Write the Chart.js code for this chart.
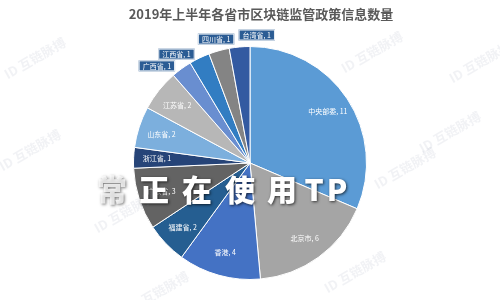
<!DOCTYPE html>
<html>
<head>
<meta charset="utf-8">
<script src="https://cdn.jsdelivr.net/npm/chart.js@4/dist/chart.umd.min.js"></script>
<style>
html,body{margin:0;padding:0;background:#fff;}
#wrap{width:500px;height:300px;position:relative;}
</style>
</head>
<body>
<div id="wrap"><canvas id="c" width="500" height="300"></canvas></div>
<script>
const chartTitle = '2019年上半年各省市区块链监管政策信息数量';
const categories = ['中央部委','北京市','香港','福建省','广东省','浙江省','山东省','江苏省','广西省','江西省','四川省','台湾省'];
const counts = [11, 6, 4, 2, 3, 1, 2, 2, 1, 1, 1, 1];
const sliceColors = ['#5B9BD5','#A5A5A5','#4472C4','#255E91','#636363','#264478','#7CAFDD','#B7B7B7','#698ED0','#327DC2','#848484','#335AA1'];
const calloutSet = ['广西省','江西省','四川省','台湾省'];
const overlayText = '常正在使用TP';
const watermarkText = '互链脉搏';

const labelPlugin = {
  id: 'sliceLabels',
  afterDatasetsDraw(chart) {
    const ctx = chart.ctx;
    const meta = chart.getDatasetMeta(0);
    const sideOf = {'台湾省': 1, '四川省': 0, '江西省': -1, '广西省': -1};
    ctx.save();
    ctx.font = '7px "Noto Sans CJK SC", sans-serif';
    ctx.textBaseline = 'middle';
    meta.data.forEach((arc, i) => {
      const p = arc.getProps(['x','y','startAngle','endAngle','outerRadius'], true);
      const mid = (p.startAngle + p.endAngle) / 2;
      const txt = categories[i] + ', ' + counts[i];
      if (calloutSet.includes(categories[i])) {
        const r = p.outerRadius + 11;
        const ax = p.x + Math.cos(mid) * r;
        const ay = p.y + Math.sin(mid) * r;
        const w = ctx.measureText(txt).width + 8;
        const h = 11;
        const side = sideOf[categories[i]];
        const cx = ax + side * w / 2;
        const cy = ay - 1 + (side < 0 ? 7 : 0);
        ctx.fillStyle = '#2B5C94';
        ctx.fillRect(cx - w/2, cy - h/2, w, h);
        ctx.strokeStyle = 'rgba(255,255,255,0.9)';
        ctx.lineWidth = 1;
        ctx.strokeRect(cx - w/2 + 0.5, cy - h/2 + 0.5, w - 1, h - 1);
        ctx.fillStyle = '#fff';
        ctx.textAlign = 'center';
        ctx.fillText(txt, cx, cy + 0.5);
      } else {
        const r = p.outerRadius * 0.8;
        const x = p.x + Math.cos(mid) * r;
        const y = p.y + Math.sin(mid) * r;
        ctx.fillStyle = '#fff';
        ctx.textAlign = 'center';
        ctx.fillText(txt, x, y);
      }
    });
    ctx.restore();
  },
  afterDraw(chart) {
    const ctx = chart.ctx;
    ctx.save();
    // title
    ctx.font = 'bold 13px "Noto Sans CJK SC", sans-serif';
    ctx.fillStyle = '#595959';
    ctx.textAlign = 'center';
    ctx.textBaseline = 'middle';
    ctx.fillText(chartTitle, 261, 14);
    // faint watermarks
    const marks = [[35,58],[372,52],[480,62],[450,132],[405,168],[355,272],[125,212],[158,292],[30,150]];
    ctx.font = 'bold 13px "Noto Sans CJK SC", sans-serif';
    ctx.fillStyle = 'rgba(140,145,170,0.12)';
    marks.forEach(([x,y]) => {
      ctx.save();
      ctx.translate(x, y);
      ctx.rotate(-Math.PI/6);
      ctx.fillText('ID ' + watermarkText, 0, 0);
      ctx.restore();
    });
    // big overlay text
    ctx.font = '900 30px "Noto Sans CJK SC", sans-serif';
    ctx.textAlign = 'center';
    const chars = Array.from(overlayText);
    const xs = [112, 154, 197, 240, 282, 314, 337];
    chars.forEach((ch, k) => {
      ctx.save();
      ctx.shadowColor = 'rgba(0,0,0,0.7)';
      ctx.shadowBlur = 3;
      ctx.shadowOffsetX = 1;
      ctx.shadowOffsetY = 1;
      ctx.fillStyle = k === 0 ? 'rgba(255,255,255,0.75)' : '#ffffff';
      ctx.fillText(ch, xs[k], 190);
      ctx.restore();
    });
    ctx.restore();
  }
};

new Chart(document.getElementById('c'), {
  type: 'pie',
  data: {
    labels: categories,
    datasets: [{
      data: counts,
      backgroundColor: sliceColors,
      borderColor: '#ffffff',
      borderWidth: 1
    }]
  },
  options: {
    responsive: false,
    animation: false,
    layout: { padding: { top: 46, bottom: 20, left: 0, right: 0 } },
    plugins: {
      legend: { display: false },
      tooltip: { enabled: false },
      title: { display: false }
    }
  },
  plugins: [labelPlugin]
});
</script>
</body>
</html>
